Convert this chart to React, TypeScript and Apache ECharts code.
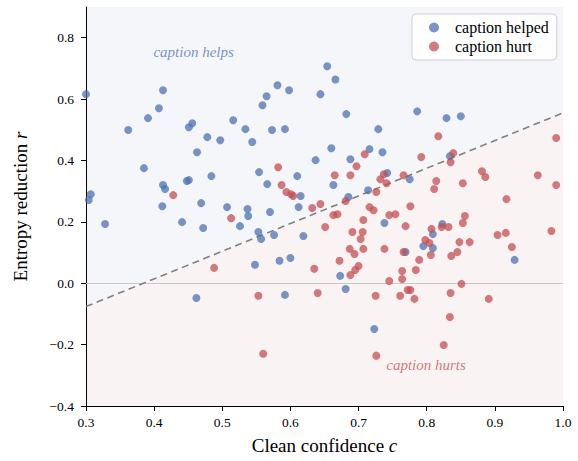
import React, { useEffect, useRef } from "react";
import * as echarts from "echarts";

// Clean confidence c / entropy reduction r — caption helped
const helpedC = [0.300, 0.304, 0.307, 0.328, 0.362, 0.385, 0.391, 0.407, 0.413, 0.412, 0.413, 0.416, 0.441, 0.448, 0.451, 0.451, 0.456, 0.462, 0.463, 0.469, 0.472, 0.478, 0.484, 0.497, 0.507, 0.516, 0.526, 0.534, 0.537, 0.538, 0.544, 0.548, 0.553, 0.554, 0.557, 0.559, 0.565, 0.566, 0.570, 0.573, 0.576, 0.581, 0.584, 0.592, 0.592, 0.598, 0.600, 0.610, 0.612, 0.615, 0.619, 0.637, 0.644, 0.654, 0.660, 0.663, 0.666, 0.673, 0.681, 0.682, 0.685, 0.688, 0.714, 0.716, 0.723, 0.729, 0.735, 0.738, 0.742, 0.769, 0.775, 0.786, 0.795, 0.809, 0.809, 0.823, 0.829, 0.834, 0.850, 0.929];
const helpedR = [0.616, 0.271, 0.290, 0.193, 0.499, 0.375, 0.538, 0.570, 0.629, 0.251, 0.320, 0.307, 0.199, 0.333, 0.336, 0.508, 0.521, -0.048, 0.427, 0.261, 0.180, 0.476, 0.349, 0.466, 0.248, 0.531, 0.186, 0.502, 0.242, 0.219, 0.460, 0.060, 0.167, 0.362, 0.144, 0.580, 0.609, 0.323, 0.232, 0.499, 0.157, 0.645, 0.073, 0.502, -0.038, 0.629, 0.082, 0.349, 0.248, 0.284, 0.154, 0.401, 0.616, 0.707, 0.440, 0.320, 0.664, 0.024, -0.019, 0.551, 0.281, 0.404, 0.303, 0.437, -0.149, 0.502, 0.427, 0.196, 0.359, 0.102, 0.339, 0.560, 0.121, 0.160, 0.115, 0.193, 0.538, 0.414, 0.544, 0.076];

// caption hurt
const hurtC = [0.428, 0.488, 0.513, 0.553, 0.560, 0.582, 0.587, 0.594, 0.601, 0.604, 0.632, 0.644, 0.640, 0.651, 0.635, 0.665, 0.663, 0.669, 0.672, 0.681, 0.687, 0.688, 0.688, 0.691, 0.694, 0.695, 0.697, 0.700, 0.703, 0.706, 0.707, 0.707, 0.709, 0.716, 0.722, 0.725, 0.726, 0.726, 0.732, 0.737, 0.741, 0.738, 0.745, 0.754, 0.745, 0.761, 0.764, 0.764, 0.766, 0.766, 0.769, 0.772, 0.776, 0.776, 0.782, 0.784, 0.789, 0.792, 0.798, 0.804, 0.806, 0.807, 0.811, 0.814, 0.817, 0.822, 0.832, 0.825, 0.834, 0.835, 0.835, 0.836, 0.839, 0.845, 0.848, 0.851, 0.853, 0.853, 0.856, 0.863, 0.881, 0.886, 0.891, 0.904, 0.916, 0.917, 0.925, 0.963, 0.983, 0.990, 0.990];
const hurtR = [0.287, 0.050, 0.212, -0.041, -0.230, 0.378, 0.320, 0.297, 0.290, 0.284, 0.245, 0.258, -0.032, 0.183, 0.047, 0.352, 0.222, 0.225, 0.073, 0.268, 0.112, 0.352, 0.027, 0.167, 0.095, 0.043, 0.381, 0.056, 0.144, 0.167, 0.206, 0.112, 0.420, 0.248, 0.238, -0.041, 0.297, -0.236, 0.339, 0.355, 0.326, 0.112, 0.222, 0.225, 0.007, -0.041, 0.040, 0.014, 0.352, 0.102, 0.186, -0.022, -0.022, 0.251, -0.051, 0.043, 0.076, 0.411, 0.141, 0.131, 0.092, 0.177, 0.307, 0.333, 0.479, 0.183, 0.183, -0.201, -0.110, 0.394, -0.032, 0.089, 0.424, 0.102, 0.134, -0.002, 0.326, 0.196, 0.219, 0.134, 0.365, 0.346, -0.051, 0.157, 0.164, 0.274, 0.118, 0.352, 0.170, 0.473, 0.320];

// dashed decision boundary
const boundaryC = [0.3, 1.0];
const boundaryR = [-0.076, 0.555];

const xTicks = [0.3, 0.4, 0.5, 0.6, 0.7, 0.8, 0.9, 1.0];
const yTicks = [-0.4, -0.2, 0.0, 0.2, 0.4, 0.6, 0.8];

const annotationTexts = ["caption helps", "caption hurts"];
const annotationC = [0.458, 0.799];
const annotationR = [0.752, -0.266];

const FONT = "'Liberation Serif', 'Times New Roman', serif";
const BLUE = "#4c72b0";
const RED = "#c44e52";

const fmt = (v: number) => {
  const s = Math.abs(v) < 1e-9 ? "0.0" : v.toFixed(1);
  return s.replace("-", "\u2212");
};

const tickText = { fontFamily: FONT, fontSize: 13.5, color: "#000" };

export default function App() {
  const ref = useRef<HTMLDivElement>(null);
  useEffect(() => {
    if (!ref.current) return;
    const chart = echarts.init(ref.current, null, { renderer: "svg" });
    const zip = (a: number[], b: number[]) => a.map((v, i) => [v, b[i]]);
    const boundary = zip(boundaryC, boundaryR);
    const option: any = {
      animation: false,
      backgroundColor: "#ffffff",
      textStyle: { fontFamily: FONT },
      grid: { left: 86, right: 15, top: 7, bottom: 55, containLabel: false },
      xAxis: {
        type: "value",
        min: 0.3,
        max: 1.0,
        interval: 0.1,
        name: "Clean confidence {i|c}",
        nameLocation: "middle",
        nameGap: 30,
        nameTextStyle: {
          fontFamily: FONT,
          fontSize: 19,
          color: "#000",
          rich: { i: { fontFamily: FONT, fontSize: 19, fontStyle: "italic", color: "#000" } },
        },
        axisLine: { show: true, onZero: false, lineStyle: { color: "#000", width: 1 } },
        axisTick: { show: true, length: 5, lineStyle: { color: "#000", width: 1 }, customValues: xTicks },
        axisLabel: {
          ...tickText,
          margin: 9,
          customValues: xTicks,
          formatter: (v: number) => "{t|" + fmt(v) + "}",
          rich: { t: tickText },
        },
        splitLine: { show: false },
      },
      yAxis: {
        type: "value",
        min: -0.4,
        max: 0.9,
        interval: 0.2,
        name: "Entropy reduction {i|r}",
        nameLocation: "middle",
        nameGap: 56,
        nameRotate: 90,
        nameTextStyle: {
          fontFamily: FONT,
          fontSize: 19,
          color: "#000",
          rich: { i: { fontFamily: FONT, fontSize: 19, fontStyle: "italic", color: "#000" } },
        },
        axisLine: { show: true, onZero: false, lineStyle: { color: "#000", width: 1 } },
        axisTick: { show: true, length: 5, lineStyle: { color: "#000", width: 1 }, customValues: yTicks },
        axisLabel: {
          ...tickText,
          margin: 12,
          customValues: yTicks,
          formatter: (v: number) => "{t|" + fmt(v) + "}",
          rich: { t: tickText },
        },
        splitLine: { show: false },
      },
      legend: {
        data: ["caption helped", "caption hurt"],
        orient: "vertical",
        left: 412,
        top: 14,
        itemGap: 2,
        itemWidth: 10,
        itemHeight: 10,
        icon: "circle",
        padding: [5, 8, 5, 17],
        borderColor: "#d0d0d0",
        borderWidth: 1,
        borderRadius: 4,
        backgroundColor: "rgba(255,255,255,0.85)",
        textStyle: { fontFamily: FONT, fontSize: 16, color: "#000", lineHeight: 17, padding: [0, 0, 0, 11] },
      },
      series: [
        {
          name: "regionAbove",
          type: "line",
          data: boundary,
          symbol: "none",
          silent: true,
          z: 0,
          lineStyle: { width: 0, opacity: 0 },
          areaStyle: { color: "#f4f6fa", opacity: 1, origin: "end" },
        },
        {
          name: "regionBelow",
          type: "line",
          data: boundary,
          symbol: "none",
          silent: true,
          z: 0,
          lineStyle: { width: 0, opacity: 0 },
          areaStyle: { color: "#faf3f3", opacity: 1, origin: "start" },
        },
        {
          name: "boundary",
          type: "line",
          data: boundary,
          symbol: "none",
          silent: true,
          z: 2,
          lineStyle: { color: "#808080", width: 1.6, type: [7, 4.5] },
          markLine: {
            silent: true,
            symbol: "none",
            label: { show: false },
            lineStyle: { color: "#c8c8c8", width: 1, type: "solid" },
            data: [{ yAxis: 0 }],
            z: 1,
          },
        },
        {
          name: "caption helped",
          type: "scatter",
          data: zip(helpedC, helpedR),
          symbol: "circle",
          symbolSize: 8,
          z: 3,
          itemStyle: { color: BLUE, opacity: 0.75 },
        },
        {
          name: "caption hurt",
          type: "scatter",
          data: zip(hurtC, hurtR),
          symbol: "circle",
          symbolSize: 8,
          z: 3,
          itemStyle: { color: RED, opacity: 0.75 },
        },
        {
          name: "annotations",
          type: "scatter",
          symbolSize: 0,
          silent: true,
          z: 4,
          data: annotationTexts.map((t, i) => ({
            value: [annotationC[i], annotationR[i]],
            label: {
              show: true,
              position: "inside",
              formatter: t,
              fontFamily: FONT,
              fontStyle: "italic",
              fontSize: 15,
              color: i === 0 ? "rgba(76,114,176,0.95)" : "rgba(196,78,82,0.95)",
            },
          })),
        },
      ],
    };
    chart.setOption(option);
    return () => chart.dispose();
  }, []);
  return (
    <div
      ref={ref}
      style={{ position: "fixed", left: 0, top: 0, width: 578, height: 461 }}
    />
  );
}
